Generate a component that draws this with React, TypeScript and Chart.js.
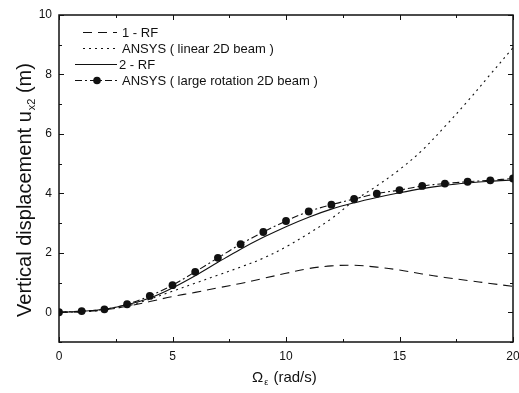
import React, { useEffect, useRef } from "react";
import { Chart, registerables } from "chart.js";

Chart.register(...registerables);

const OMEGA = [0, 1, 2, 3, 4, 5, 6, 7, 8, 9, 10, 11, 12, 13, 14, 15, 16, 17, 18, 19, 20];
const RF1 = [0, 0.02, 0.08, 0.2, 0.36, 0.53, 0.67, 0.82, 0.97, 1.14, 1.31, 1.47, 1.56, 1.58, 1.52, 1.42, 1.29, 1.17, 1.07, 0.97, 0.87];
const ANSYS_LINEAR = [0, 0.02, 0.08, 0.21, 0.44, 0.71, 0.98, 1.25, 1.52, 1.82, 2.2, 2.65, 3.15, 3.75, 4.25, 4.8, 5.45, 6.25, 7.1, 8.0, 8.9];
const RF2 = [0, 0.03, 0.1, 0.25, 0.48, 0.82, 1.23, 1.68, 2.12, 2.52, 2.88, 3.2, 3.47, 3.68, 3.86, 4.02, 4.16, 4.27, 4.35, 4.41, 4.45];
const ANSYS_LARGE = [0, 0.04, 0.1, 0.27, 0.55, 0.91, 1.36, 1.83, 2.29, 2.7, 3.07, 3.39, 3.62, 3.81, 3.99, 4.11, 4.25, 4.33, 4.39, 4.44, 4.5];

const LEGEND_LABELS = ["1 - RF", "ANSYS ( linear 2D beam )", "2 - RF", "ANSYS ( large rotation 2D beam )"];
const X_MAJOR = [0, 5, 10, 15, 20];
const X_MINOR = [2.5, 7.5, 12.5, 17.5];
const Y_MAJOR = [0, 2, 4, 6, 8, 10];
const Y_MINOR = [-1, 1, 3, 5, 7, 9];

const FONT = "'Liberation Sans', Arial, Helvetica, sans-serif";
const INK = "#111";

const DASHES: number[][] = [[9, 6], [2, 4], [], [7, 3, 2, 3]];

function pts(ys: number[]) {
  return OMEGA.map((x, i) => ({ x, y: ys[i] }));
}

const framePlugin = {
  id: "frameTicks",
  afterDraw(chart: any) {
    const { ctx, chartArea, scales } = chart;
    const { left, right, top, bottom } = chartArea;
    const xs = scales.x;
    const ys = scales.y;
    ctx.save();
    ctx.strokeStyle = INK;
    ctx.lineWidth = 1.5;
    ctx.setLineDash([]);
    ctx.strokeRect(left, top, right - left, bottom - top);
    ctx.lineWidth = 1;
    ctx.beginPath();
    const xt = (vals: number[], len: number) => {
      vals.forEach((v) => {
        const p = Math.round(xs.getPixelForValue(v)) + 0.5;
        ctx.moveTo(p, bottom);
        ctx.lineTo(p, bottom - len);
        ctx.moveTo(p, top);
        ctx.lineTo(p, top + len);
      });
    };
    const yt = (vals: number[], len: number) => {
      vals.forEach((v) => {
        const p = Math.round(ys.getPixelForValue(v)) + 0.5;
        ctx.moveTo(left, p);
        ctx.lineTo(left + len, p);
        ctx.moveTo(right, p);
        ctx.lineTo(right - len, p);
      });
    };
    xt(X_MAJOR, 5);
    xt(X_MINOR, 3);
    yt(Y_MAJOR, 5);
    yt(Y_MINOR, 3);
    ctx.stroke();

    // Legend
    const rowY = [32, 48, 64, 80];
    ctx.font = `13px ${FONT}`;
    ctx.fillStyle = INK;
    ctx.textBaseline = "middle";
    ctx.textAlign = "left";
    LEGEND_LABELS.forEach((lab, i) => {
      const y = rowY[i];
      ctx.beginPath();
      ctx.setLineDash(DASHES[i]);
      ctx.lineWidth = 1.1;
      ctx.moveTo(i < 2 ? 83 : 75, y + 0.5);
      ctx.lineTo(117, y + 0.5);
      ctx.stroke();
      ctx.setLineDash([]);
      if (i === 3) {
        ctx.beginPath();
        ctx.arc(97, y + 0.5, 3.8, 0, Math.PI * 2);
        ctx.fill();
      }
      ctx.fillText(lab, i === 2 ? 119 : 122, y + 1);
    });

    // X title
    ctx.font = `15px ${FONT}`;
    ctx.textBaseline = "alphabetic";
    const xbase = 382;
    let cx = 252;
    ctx.fillText("Ω", cx, xbase);
    cx += ctx.measureText("Ω").width + 1;
    ctx.font = `9px ${FONT}`;
    ctx.fillText("ε", cx, xbase + 3);
    cx += ctx.measureText("ε").width + 1;
    ctx.font = `15px ${FONT}`;
    ctx.fillText(" (rad/s)", cx, xbase);

    // Y title
    ctx.save();
    ctx.translate(31, 0);
    ctx.rotate(-Math.PI / 2);
    const main = "Vertical displacement u";
    const sub = "x2";
    const tail = " (m)";
    ctx.font = `20px ${FONT}`;
    const w1 = ctx.measureText(main).width;
    const w3 = ctx.measureText(tail).width;
    ctx.font = `11px ${FONT}`;
    const w2 = ctx.measureText(sub).width;
    const total = w1 + w2 + w3 + 1;
    const center = 190;
    let sx = -center - total / 2;
    ctx.font = `20px ${FONT}`;
    ctx.fillText(main, sx, 0);
    sx += w1 + 1;
    ctx.font = `11px ${FONT}`;
    ctx.fillText(sub, sx, 4);
    sx += w2;
    ctx.font = `20px ${FONT}`;
    ctx.fillText(tail, sx, 0);
    ctx.restore();

    ctx.restore();
  },
};

export default function App() {
  const ref = useRef<HTMLCanvasElement | null>(null);
  useEffect(() => {
    if (!ref.current) return;
    const common = {
      borderColor: INK,
      borderWidth: 1.1,
      pointRadius: 0,
      fill: false,
      tension: 0.35,
    };
    const chart = new Chart(ref.current, {
      type: "line",
      data: {
        datasets: [
          { ...common, label: LEGEND_LABELS[0], data: pts(RF1), borderDash: DASHES[0] },
          { ...common, label: LEGEND_LABELS[1], data: pts(ANSYS_LINEAR), borderDash: DASHES[1] },
          { ...common, label: LEGEND_LABELS[2], data: pts(RF2), borderDash: DASHES[2] },
          {
            ...common,
            label: LEGEND_LABELS[3],
            data: pts(ANSYS_LARGE),
            borderDash: DASHES[3],
            pointRadius: 3.9,
            pointBackgroundColor: INK,
            pointBorderColor: INK,
            pointBorderWidth: 0,
          },
        ],
      },
      options: {
        responsive: false,
        animation: false,
        layout: { padding: { top: 15, right: 6, left: 0, bottom: 0 } },
        plugins: { legend: { display: false }, tooltip: { enabled: false } },
        scales: {
          x: {
            type: "linear",
            min: 0,
            max: 20,
            grid: { display: false, tickLength: 0 },
            border: { display: false },
            ticks: {
              stepSize: 5,
              padding: 7,
              color: INK,
              font: { family: FONT, size: 12 },
              maxRotation: 0,
            },
            afterFit: (s: any) => {
              s.height = 51;
              s.paddingLeft = 0;
              s.paddingRight = 0;
            },
          },
          y: {
            type: "linear",
            min: -1,
            max: 10,
            grid: { display: false, tickLength: 0 },
            border: { display: false },
            ticks: {
              stepSize: 2,
              includeBounds: false,
              padding: 7,
              color: INK,
              font: { family: FONT, size: 12 },
            },
            afterFit: (s: any) => {
              s.width = 59;
              s.paddingTop = 0;
              s.paddingBottom = 0;
            },
          },
        },
      },
      plugins: [framePlugin],
    });
    return () => chart.destroy();
  }, []);
  return (
    <div style={{ position: "fixed", left: 0, top: 0, width: 519, height: 393, background: "#fff" }}>
      <canvas ref={ref} width={519} height={393} />
    </div>
  );
}
